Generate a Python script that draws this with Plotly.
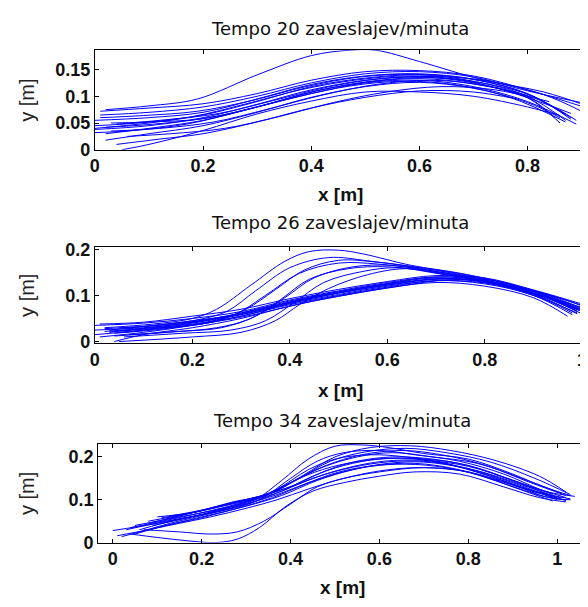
import plotly.graph_objects as go

# ---------------- data ----------------
titles = ["Tempo 20 zaveslajev/minuta", "Tempo 26 zaveslajev/minuta", "Tempo 34 zaveslajev/minuta"]

# Tempo 20 trajectories: (x list, y list)
t20_x = [
    [0.02, 0.10, 0.19, 0.30, 0.40, 0.47, 0.52, 0.60, 0.72, 0.83, 0.91],
    [0.01, 0.10, 0.20, 0.30, 0.40, 0.50, 0.60, 0.70, 0.80, 0.91],
    [0.00, 0.10, 0.20, 0.30, 0.40, 0.50, 0.60, 0.70, 0.80, 0.88],
    [0.00, 0.10, 0.20, 0.30, 0.40, 0.50, 0.60, 0.70, 0.80, 0.87],
    [0.00, 0.10, 0.20, 0.30, 0.40, 0.50, 0.60, 0.70, 0.80, 0.86],
    [0.03, 0.10, 0.20, 0.30, 0.40, 0.50, 0.60, 0.70, 0.80, 0.85],
    [0.02, 0.10, 0.20, 0.30, 0.40, 0.50, 0.60, 0.70, 0.80, 0.89],
    [0.02, 0.10, 0.20, 0.30, 0.40, 0.50, 0.60, 0.70, 0.80, 0.86],
    [0.05, 0.10, 0.20, 0.30, 0.40, 0.50, 0.60, 0.70, 0.80, 0.86],
    [0.04, 0.12, 0.20, 0.30, 0.40, 0.50, 0.60, 0.70, 0.78],
    [0.01, 0.10, 0.20, 0.30, 0.40, 0.50, 0.60, 0.70, 0.80, 0.90],
    [0.00, 0.08, 0.18, 0.28, 0.38, 0.48, 0.58, 0.68, 0.78, 0.88],
    [0.03, 0.12, 0.22, 0.32, 0.42, 0.52, 0.62, 0.72, 0.82, 0.89],
    [0.06, 0.14, 0.24, 0.34, 0.44, 0.54, 0.64, 0.74, 0.84],
    [0.01, 0.09, 0.19, 0.29, 0.39, 0.49, 0.59, 0.69, 0.79, 0.87],
    [0.02, 0.11, 0.21, 0.31, 0.41, 0.51, 0.61, 0.71, 0.81, 0.88],
    [0.00, 0.07, 0.17, 0.27, 0.37, 0.47, 0.57, 0.67, 0.77, 0.87],
    [0.04, 0.13, 0.23, 0.33, 0.43, 0.53, 0.63, 0.73, 0.83, 0.90],
]
t20_y = [
    [0.075, 0.082, 0.095, 0.140, 0.176, 0.186, 0.186, 0.165, 0.130, 0.108, 0.082],
    [0.072, 0.078, 0.086, 0.105, 0.130, 0.146, 0.148, 0.138, 0.112, 0.078],
    [0.055, 0.060, 0.070, 0.095, 0.122, 0.138, 0.142, 0.132, 0.105, 0.060],
    [0.040, 0.050, 0.065, 0.090, 0.118, 0.134, 0.140, 0.128, 0.100, 0.055],
    [0.038, 0.045, 0.060, 0.085, 0.112, 0.130, 0.136, 0.125, 0.097, 0.050],
    [0.050, 0.052, 0.058, 0.080, 0.108, 0.126, 0.133, 0.123, 0.098, 0.060],
    [0.030, 0.040, 0.055, 0.080, 0.105, 0.125, 0.130, 0.118, 0.090, 0.048],
    [0.018, 0.030, 0.045, 0.070, 0.098, 0.118, 0.126, 0.115, 0.088, 0.060],
    [0.000, 0.010, 0.036, 0.067, 0.091, 0.108, 0.108, 0.100, 0.080, 0.064],
    [0.010, 0.020, 0.030, 0.052, 0.078, 0.098, 0.110, 0.108, 0.095],
    [0.065, 0.070, 0.080, 0.100, 0.125, 0.142, 0.146, 0.136, 0.110, 0.088],
    [0.045, 0.050, 0.062, 0.086, 0.112, 0.130, 0.138, 0.130, 0.104, 0.068],
    [0.035, 0.040, 0.052, 0.076, 0.102, 0.122, 0.130, 0.120, 0.094, 0.055],
    [0.025, 0.030, 0.040, 0.062, 0.088, 0.108, 0.118, 0.112, 0.090],
    [0.060, 0.064, 0.072, 0.092, 0.118, 0.136, 0.141, 0.133, 0.108, 0.066],
    [0.042, 0.048, 0.060, 0.083, 0.110, 0.128, 0.135, 0.126, 0.100, 0.057],
    [0.032, 0.036, 0.048, 0.072, 0.098, 0.119, 0.128, 0.121, 0.097, 0.052],
    [0.048, 0.056, 0.068, 0.092, 0.117, 0.133, 0.137, 0.128, 0.103, 0.072],
]

# Tempo 26 trajectories
t26_x = [
    [0.02, 0.12, 0.20, 0.25, 0.32, 0.39, 0.44, 0.50, 0.55, 0.65, 0.75, 0.85, 0.95, 1.01],
    [0.03, 0.12, 0.20, 0.27, 0.33, 0.40, 0.48, 0.56, 0.65, 0.75, 0.85, 0.95, 1.01],
    [0.05, 0.15, 0.22, 0.29, 0.35, 0.42, 0.50, 0.58, 0.66, 0.75, 0.85, 0.95, 1.00],
    [0.04, 0.15, 0.25, 0.32, 0.38, 0.44, 0.52, 0.60, 0.70, 0.80, 0.90, 0.99],
    [0.06, 0.18, 0.28, 0.35, 0.41, 0.47, 0.55, 0.62, 0.70, 0.80, 0.90, 0.98],
    [0.05, 0.20, 0.30, 0.37, 0.42, 0.48, 0.56, 0.64, 0.72, 0.82, 0.92, 1.00],
    [0.00, 0.10, 0.20, 0.30, 0.40, 0.50, 0.60, 0.70, 0.80, 0.90, 1.00],
    [0.00, 0.10, 0.20, 0.30, 0.40, 0.50, 0.60, 0.70, 0.80, 0.90, 1.00],
    [0.02, 0.10, 0.20, 0.30, 0.40, 0.50, 0.60, 0.70, 0.80, 0.90, 0.99],
    [0.03, 0.10, 0.20, 0.30, 0.40, 0.50, 0.60, 0.70, 0.80, 0.90, 0.98],
    [0.04, 0.10, 0.20, 0.30, 0.40, 0.50, 0.60, 0.70, 0.80, 0.90, 0.97],
    [0.01, 0.10, 0.20, 0.30, 0.40, 0.50, 0.60, 0.70, 0.80, 0.90, 1.01],
    [0.00, 0.10, 0.20, 0.30, 0.40, 0.50, 0.60, 0.70, 0.80, 0.90, 1.00],
    [0.01, 0.10, 0.20, 0.30, 0.40, 0.50, 0.60, 0.70, 0.80, 0.90, 0.99],
    [0.05, 0.12, 0.22, 0.32, 0.42, 0.52, 0.62, 0.72, 0.82, 0.92, 1.00],
    [0.02, 0.11, 0.21, 0.31, 0.41, 0.51, 0.61, 0.71, 0.81, 0.91, 1.01],
    [0.04, 0.13, 0.23, 0.33, 0.43, 0.53, 0.63, 0.73, 0.83, 0.93, 0.99],
    [0.03, 0.14, 0.24, 0.31, 0.37, 0.43, 0.50, 0.58, 0.67, 0.77, 0.87, 0.97, 1.01],
    [0.07, 0.17, 0.26, 0.33, 0.39, 0.45, 0.53, 0.61, 0.70, 0.80, 0.90, 0.99],
]
t26_y = [
    [0.030, 0.038, 0.050, 0.070, 0.122, 0.174, 0.195, 0.198, 0.190, 0.165, 0.148, 0.125, 0.095, 0.075],
    [0.025, 0.035, 0.045, 0.065, 0.110, 0.160, 0.182, 0.175, 0.162, 0.145, 0.120, 0.090, 0.070],
    [0.020, 0.030, 0.040, 0.060, 0.100, 0.148, 0.170, 0.168, 0.158, 0.142, 0.118, 0.088, 0.065],
    [0.012, 0.020, 0.030, 0.050, 0.090, 0.135, 0.158, 0.162, 0.150, 0.132, 0.105, 0.070],
    [0.010, 0.018, 0.025, 0.045, 0.085, 0.128, 0.152, 0.160, 0.148, 0.130, 0.102, 0.062],
    [0.000, 0.010, 0.020, 0.045, 0.080, 0.115, 0.145, 0.158, 0.145, 0.125, 0.097, 0.060],
    [0.035, 0.040, 0.050, 0.065, 0.090, 0.110, 0.128, 0.140, 0.135, 0.110, 0.070],
    [0.015, 0.025, 0.040, 0.058, 0.083, 0.105, 0.122, 0.135, 0.130, 0.105, 0.065],
    [0.028, 0.033, 0.045, 0.060, 0.086, 0.108, 0.125, 0.138, 0.128, 0.100, 0.062],
    [0.020, 0.028, 0.038, 0.055, 0.080, 0.100, 0.118, 0.132, 0.125, 0.100, 0.058],
    [0.000, 0.015, 0.030, 0.050, 0.077, 0.098, 0.116, 0.128, 0.120, 0.095, 0.055],
    [0.038, 0.042, 0.055, 0.070, 0.093, 0.113, 0.130, 0.143, 0.138, 0.112, 0.078],
    [0.025, 0.030, 0.042, 0.062, 0.088, 0.108, 0.126, 0.140, 0.132, 0.108, 0.068],
    [0.010, 0.020, 0.035, 0.055, 0.082, 0.102, 0.120, 0.132, 0.127, 0.103, 0.060],
    [0.030, 0.034, 0.046, 0.066, 0.090, 0.110, 0.127, 0.137, 0.128, 0.104, 0.072],
    [0.022, 0.030, 0.043, 0.061, 0.087, 0.107, 0.124, 0.136, 0.129, 0.102, 0.064],
    [0.018, 0.026, 0.040, 0.059, 0.084, 0.104, 0.121, 0.134, 0.126, 0.098, 0.066],
    [0.022, 0.030, 0.042, 0.070, 0.112, 0.155, 0.176, 0.172, 0.160, 0.143, 0.119, 0.089, 0.072],
    [0.015, 0.022, 0.030, 0.055, 0.095, 0.138, 0.162, 0.165, 0.152, 0.134, 0.106, 0.066],
]

# Tempo 34 trajectories
t34_x = [
    [0.05, 0.15, 0.25, 0.32, 0.38, 0.44, 0.50, 0.56, 0.62, 0.70, 0.80, 0.90, 0.97, 1.03],
    [0.06, 0.15, 0.25, 0.33, 0.40, 0.46, 0.52, 0.60, 0.68, 0.78, 0.88, 0.96, 1.02],
    [0.03, 0.12, 0.22, 0.30, 0.37, 0.44, 0.50, 0.58, 0.66, 0.75, 0.85, 0.95, 1.03],
    [0.00, 0.10, 0.20, 0.30, 0.38, 0.45, 0.52, 0.60, 0.70, 0.80, 0.90, 0.98, 1.04],
    [0.02, 0.10, 0.20, 0.30, 0.38, 0.46, 0.54, 0.62, 0.70, 0.80, 0.90, 1.00],
    [0.05, 0.12, 0.20, 0.28, 0.36, 0.43, 0.50, 0.58, 0.66, 0.75, 0.85, 0.95, 1.02],
    [0.08, 0.16, 0.25, 0.33, 0.40, 0.48, 0.56, 0.64, 0.72, 0.82, 0.92, 1.00],
    [0.04, 0.10, 0.17, 0.23, 0.28, 0.33, 0.39, 0.45, 0.52, 0.60, 0.68, 0.78, 0.88, 0.96, 1.02],
    [0.07, 0.15, 0.22, 0.28, 0.34, 0.40, 0.46, 0.54, 0.62, 0.70, 0.80, 0.90, 0.98, 1.03],
    [0.01, 0.08, 0.15, 0.22, 0.30, 0.37, 0.44, 0.52, 0.60, 0.70, 0.80, 0.90, 0.99],
    [0.10, 0.18, 0.26, 0.33, 0.40, 0.47, 0.55, 0.63, 0.72, 0.82, 0.92, 1.01],
    [0.12, 0.20, 0.27, 0.34, 0.41, 0.48, 0.56, 0.65, 0.74, 0.84, 0.94, 1.02],
    [0.09, 0.17, 0.25, 0.32, 0.38, 0.45, 0.53, 0.61, 0.70, 0.80, 0.90, 0.99],
    [0.06, 0.14, 0.22, 0.30, 0.37, 0.44, 0.51, 0.59, 0.68, 0.78, 0.88, 0.97, 1.02],
    [0.04, 0.12, 0.21, 0.29, 0.36, 0.42, 0.49, 0.57, 0.65, 0.74, 0.84, 0.94, 1.01],
    [0.08, 0.17, 0.26, 0.34, 0.41, 0.48, 0.55, 0.63, 0.71, 0.80, 0.90, 0.99],
    [0.11, 0.19, 0.27, 0.35, 0.42, 0.49, 0.57, 0.66, 0.75, 0.85, 0.95, 1.03],
    [0.13, 0.21, 0.29, 0.36, 0.43, 0.50, 0.58, 0.67, 0.76, 0.86, 0.96, 1.02],
]
t34_y = [
    [0.040, 0.060, 0.080, 0.100, 0.145, 0.195, 0.225, 0.228, 0.222, 0.208, 0.195, 0.160, 0.130, 0.110],
    [0.030, 0.055, 0.075, 0.100, 0.150, 0.190, 0.210, 0.215, 0.205, 0.190, 0.160, 0.125, 0.105],
    [0.030, 0.050, 0.070, 0.095, 0.125, 0.170, 0.195, 0.205, 0.200, 0.185, 0.155, 0.120, 0.102],
    [0.028, 0.045, 0.065, 0.090, 0.120, 0.155, 0.180, 0.195, 0.195, 0.180, 0.145, 0.118, 0.108],
    [0.014, 0.035, 0.060, 0.085, 0.110, 0.145, 0.170, 0.185, 0.188, 0.172, 0.140, 0.100],
    [0.020, 0.040, 0.058, 0.080, 0.105, 0.135, 0.160, 0.178, 0.183, 0.175, 0.150, 0.118, 0.098],
    [0.045, 0.065, 0.088, 0.108, 0.130, 0.160, 0.180, 0.190, 0.188, 0.168, 0.135, 0.105],
    [0.020, 0.012, 0.004, 0.000, 0.008, 0.035, 0.085, 0.120, 0.140, 0.155, 0.165, 0.160, 0.130, 0.105, 0.095],
    [0.030, 0.025, 0.020, 0.025, 0.050, 0.090, 0.130, 0.155, 0.170, 0.175, 0.165, 0.135, 0.105, 0.100],
    [0.016, 0.030, 0.045, 0.060, 0.080, 0.100, 0.125, 0.150, 0.165, 0.175, 0.165, 0.130, 0.097],
    [0.060, 0.070, 0.088, 0.105, 0.140, 0.175, 0.200, 0.210, 0.200, 0.185, 0.150, 0.115],
    [0.055, 0.075, 0.095, 0.110, 0.145, 0.180, 0.205, 0.215, 0.205, 0.180, 0.140, 0.110],
    [0.040, 0.058, 0.080, 0.100, 0.120, 0.150, 0.175, 0.190, 0.192, 0.178, 0.145, 0.108],
    [0.025, 0.048, 0.068, 0.090, 0.112, 0.140, 0.165, 0.180, 0.185, 0.170, 0.138, 0.108, 0.100],
    [0.035, 0.052, 0.072, 0.093, 0.118, 0.150, 0.176, 0.192, 0.197, 0.186, 0.158, 0.122, 0.104],
    [0.050, 0.068, 0.090, 0.110, 0.135, 0.168, 0.190, 0.200, 0.196, 0.180, 0.146, 0.112],
    [0.058, 0.072, 0.092, 0.112, 0.150, 0.190, 0.212, 0.220, 0.210, 0.188, 0.150, 0.112],
    [0.062, 0.078, 0.098, 0.118, 0.158, 0.200, 0.222, 0.226, 0.215, 0.192, 0.155, 0.118],
]

x_ranges = [[0, 0.908], [0, 1.008], [-0.033, 1.065]]
y_ranges = [[0, 0.186], [-0.004, 0.2055], [0, 0.2307]]
y_dticks = [0.05, 0.1, 0.1]

# ---------------- figure ----------------
# The page body keeps the browser's default 8 px margin, so the figure's
# top-left corner lands at (8, 8) of the window; positions below are
# window pixels and are converted with that offset.
OFF = 8
W, H = 588 - OFF, 607 - OFF
boxes = [  # left, right, top, bottom in window pixels
    (90.7, 587, 44.3, 146.7),
    (90.7, 587, 246.5, 346.0),
    (94.0, 587, 449.3, 551.0),
]
title_y = [21.7, 221.7, 425]
xlabel_y = [193, 394, 597]


def px(v):
    return (v - OFF) / W


def py(v):
    return 1 - (v - OFF) / H


fig = go.Figure()
all_sets = [(t20_x, t20_y), (t26_x, t26_y), (t34_x, t34_y)]
for i, (xs, ys) in enumerate(all_sets):
    ax = "" if i == 0 else str(i + 1)
    for cx, cy in zip(xs, ys):
        fig.add_trace(go.Scatter(
            x=cx, y=cy, mode="lines",
            line=dict(color="#0000ff", width=1, shape="spline", smoothing=1.0),
            xaxis="x" + ax, yaxis="y" + ax, showlegend=False, hoverinfo="skip"))

FONT = "Liberation Sans, Arial, sans-serif"
TFONT = "DejaVu Sans, Verdana, sans-serif"
axis_common = dict(
    showline=True, linecolor="black", linewidth=1, mirror="ticks",
    ticks="inside", ticklen=4, tickcolor="black", showgrid=False, zeroline=False,
    ticklabeloverflow="allow",
    tickfont=dict(family=FONT, size=18, color="#111", weight="bold"),
)
layout = dict(width=W, height=H, margin=dict(l=0, r=0, t=0, b=0),
              plot_bgcolor="white", paper_bgcolor="white", showlegend=False)
annotations = []
for i, (l, r, t, b) in enumerate(boxes):
    ax = "" if i == 0 else str(i + 1)
    layout["xaxis" + ax] = dict(axis_common, domain=[px(l), min(px(r), 1)], range=x_ranges[i],
                                dtick=0.2, tick0=0, anchor="y" + ax)
    layout["yaxis" + ax] = dict(axis_common, domain=[py(b), py(t)], range=y_ranges[i],
                                dtick=y_dticks[i], tick0=0, anchor="x" + ax)
    cxp = px((l + r) / 2)
    annotations.append(dict(text=titles[i], x=cxp, y=py(title_y[i]), xref="paper", yref="paper",
                            showarrow=False, xanchor="center", yanchor="middle",
                            font=dict(family=TFONT, size=18, color="#111")))
    annotations.append(dict(text="x [m]", x=cxp, y=py(xlabel_y[i]), xref="paper", yref="paper",
                            showarrow=False, xanchor="center", yanchor="middle",
                            font=dict(family=FONT, size=19, color="#111", weight="bold")))
    annotations.append(dict(text="y [m]", x=px(22), y=py((t + b) / 2), xref="paper", yref="paper",
                            showarrow=False, xanchor="center", yanchor="middle", textangle=-90,
                            font=dict(family=FONT, size=20, color="#222")))
layout["annotations"] = annotations
fig.update_layout(**layout)
fig.write_html("out.html")
